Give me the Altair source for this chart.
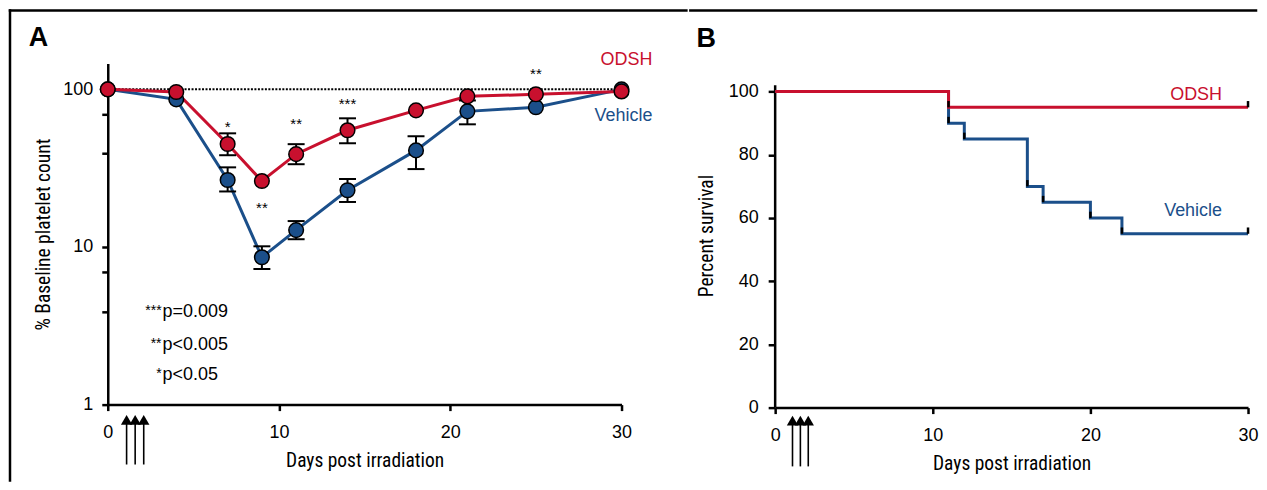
import altair as alt
import pandas as pd

# ---------------- data (panel A: platelet counts, % of baseline) ----------------
days_a = [0, 4, 7, 9, 11, 14, 18, 21, 25, 30]
odsh_a = [100, 96.2, 45, 26.2, 38.8, 55, 73.6, 90.3, 93, 97]
vehicle_a = [100, 86.4, 26.6, 8.6, 12.8, 22.9, 41, 72.5, 77, 100]

err_odsh_days = [7, 11, 14]
err_odsh_lo = [38.2, 33.5, 45.5]
err_odsh_hi = [52.6, 44.9, 65.5]
err_veh_days = [7, 9, 11, 14, 18, 21]
err_veh_lo = [22.5, 7.25, 11.2, 19.3, 31.2, 60]
err_veh_hi = [32, 10.1, 14.6, 27, 50.4, 85]

star_days = [7, 9, 11, 14, 25]
star_vals = [60, 18.4, 62.7, 84, 130]
star_text = ["*", "**", "**", "***", "**"]

p_stars = ["***", "**", "*"]
p_text = ["p=0.009", "p<0.005", "p<0.05"]
p_day = [3.2, 3.2, 3.2]
p_vals = [3.88, 2.40, 1.53]

dose_days = [1.1, 1.6, 2.1]

# ---------------- data (panel B: survival) ----------------
surv_days_odsh = [0, 11, 30]
surv_odsh = [100, 95, 95]
surv_days_veh = [0, 11, 12, 16, 17, 20, 22, 30]
surv_veh = [100, 90, 85, 70, 65, 60, 55, 55]

series_names = ["ODSH", "Vehicle"]
label_a_day = [31.8, 31.8]
label_a_val = [152.6, 67.5]
label_b_day = [28.35, 28.35]
label_b_val = [99.05, 62.1]

RED = "#c8102e"
BLUE = "#1b4f8a"
NARROW = "Roboto Condensed, DejaVu Sans Condensed, sans-serif"
SANS = "Liberation Sans, Arial, Helvetica, sans-serif"

one = pd.DataFrame({"k": [0]})

def axis(values, title, tick=6, lpad=12.5, tpad=11, **kw):
    return alt.Axis(values=values, title=title, grid=False,
                    tickSize=tick, tickWidth=2.5, domainWidth=2.5, domainColor="black",
                    tickColor="black", labelFont=SANS, labelFontSize=18, labelColor="black",
                    labelPadding=lpad, titleFont=NARROW, titleFontSize=19.5,
                    titleFontWeight="normal", titleColor="black", titlePadding=tpad,
                    labelFlush=False, **kw)

# ---------------- panel A ----------------
xA = alt.Scale(domain=[0, 30], nice=False)
yA = alt.Scale(type="log", domain=[1, 146], nice=False)
axAx = axis([0, 10, 20, 30], "Days post irradiation")
axAy = axis([1, 3.9, 6.9, 10, 39.3, 69.4, 100], "% Baseline platelet count", lpad=9, tpad=9,
            format="~g", labelExpr="indexof([1, 10, 100], datum.value) >= 0 ? datum.label : ''")

dfA_o = pd.DataFrame({"day": days_a, "val": odsh_a})
dfA_v = pd.DataFrame({"day": days_a, "val": vehicle_a})
errA_o = pd.DataFrame({"day": err_odsh_days, "lo": err_odsh_lo, "hi": err_odsh_hi})
errA_v = pd.DataFrame({"day": err_veh_days, "lo": err_veh_lo, "hi": err_veh_hi})
stars = pd.DataFrame({"day": star_days, "val": star_vals, "t": star_text})
pdf = pd.DataFrame({"day": p_day, "val": p_vals, "s": p_stars, "t": p_text})
labA = pd.DataFrame({"day": label_a_day, "val": label_a_val, "t": series_names})
doseA = pd.DataFrame({"day": dose_days, "lo": [0.417] * 3, "hi": [0.80] * 3})

line_v = alt.Chart(dfA_v).mark_line(color=BLUE, strokeWidth=3).encode(
    x=alt.X("day:Q", scale=xA, axis=axAx),
    y=alt.Y("val:Q", scale=yA, axis=axAy),
)
ref100 = alt.Chart(pd.DataFrame({"d0": [0], "d1": [30], "v": [100]})).mark_rule(
    color="black", strokeWidth=2, strokeDash=[2, 1.5]).encode(x="d0:Q", x2="d1:Q", y="v:Q")
line_o = alt.Chart(dfA_o).mark_line(color=RED, strokeWidth=3).encode(x="day:Q", y="val:Q")

def errbars(df):
    r = alt.Chart(df).mark_rule(color="black", strokeWidth=2).encode(x="day:Q", y="lo:Q", y2="hi:Q")
    t1 = alt.Chart(df).mark_tick(orient="horizontal", color="black", size=17, thickness=2,
                                 opacity=1).encode(x="day:Q", y="lo:Q")
    t2 = alt.Chart(df).mark_tick(orient="horizontal", color="black", size=17, thickness=2,
                                 opacity=1).encode(x="day:Q", y="hi:Q")
    return [r, t1, t2]

pts_v = alt.Chart(dfA_v).mark_circle(size=215, fill=BLUE, stroke="black", strokeWidth=1.5,
                                     opacity=1).encode(x="day:Q", y="val:Q")
pts_o = alt.Chart(dfA_o).mark_circle(size=215, fill=RED, stroke="black", strokeWidth=1.5,
                                     opacity=1).encode(x="day:Q", y="val:Q")
star_txt = alt.Chart(stars).mark_text(font=SANS, fontSize=15, color="black", dy=3).encode(
    x="day:Q", y="val:Q", text="t:N")
p_s = alt.Chart(pdf).mark_text(font=SANS, fontSize=14, color="black", align="right", dx=-1,
                               dy=-1).encode(x="day:Q", y="val:Q", text="s:N")
p_t = alt.Chart(pdf).mark_text(font=SANS, fontSize=18, color="black", align="left",
                               baseline="middle").encode(x="day:Q", y="val:Q", text="t:N")
labA_txt = alt.Chart(labA).mark_text(font=SANS, fontSize=18, align="right").encode(
    x="day:Q", y="val:Q", text="t:N",
    color=alt.Color("t:N", scale=alt.Scale(domain=series_names, range=[RED, BLUE]), legend=None))
dose_rule = alt.Chart(doseA).mark_rule(color="black", strokeWidth=1.6).encode(
    x="day:Q", y="lo:Q", y2="hi:Q")
dose_head = alt.Chart(doseA).mark_point(shape="triangle-up", filled=True, color="black",
                                        size=130, opacity=1).encode(x="day:Q", y="hi:Q")
letterA = alt.Chart(one).mark_text(text="A", font=SANS, fontSize=27, fontWeight="bold",
                                   color="black", baseline="middle").encode(
    x=alt.value(-69.5), y=alt.value(-25))
frameA_top = alt.Chart(one).mark_rule(color="black", strokeWidth=2.5, strokeCap="square").encode(
    x=alt.value(-98), x2=alt.value(580), y=alt.value(-53))
frameA_left = alt.Chart(one).mark_rule(color="black", strokeWidth=2.5, strokeCap="square").encode(
    x=alt.value(-98), y=alt.value(-53), y2=alt.value(418))

panelA = alt.layer(
    frameA_top, frameA_left, letterA,
    line_v, ref100, line_o, *errbars(errA_o), *errbars(errA_v),
    pts_v, pts_o, star_txt, p_s, p_t, labA_txt, dose_rule, dose_head,
).properties(width=515, height=342)

# ---------------- panel B ----------------
# plot area shares its top with panel A; the drawn axis line stops at 102
xB = alt.Scale(domain=[0, 30], nice=False)
yB = alt.Scale(domain=[0, 108.9], nice=False)
axBx = axis([0, 10, 20, 30], "Days post irradiation")
axBy = axis([0, 20, 40, 60, 80, 100], "Percent survival", tick=7, lpad=10, tpad=12, domain=False)

dfB_o = pd.DataFrame({"day": surv_days_odsh, "val": surv_odsh})
dfB_v = pd.DataFrame({"day": surv_days_veh, "val": surv_veh})
cens = pd.DataFrame({
    "day": surv_days_veh[1:] + surv_days_odsh[1:],
    "val": surv_veh[1:] + surv_odsh[1:],
})
cens["top"] = cens["val"] + 2
labB = pd.DataFrame({"day": label_b_day, "val": label_b_val, "t": series_names})
doseB = pd.DataFrame({"day": dose_days, "lo": [-18.6] * 3, "hi": [-4.1] * 3})

yaxis_line = alt.Chart(pd.DataFrame({"d": [0], "v0": [0], "v1": [102]})).mark_rule(
    color="black", strokeWidth=2.5).encode(x="d:Q", y="v0:Q", y2="v1:Q")
lineB_v = alt.Chart(dfB_v).mark_line(color=BLUE, strokeWidth=3, interpolate="step-after").encode(
    x=alt.X("day:Q", scale=xB, axis=axBx), y=alt.Y("val:Q", scale=yB, axis=axBy))
lineB_o = alt.Chart(dfB_o).mark_line(color=RED, strokeWidth=3, interpolate="step-after").encode(
    x="day:Q", y="val:Q")
cens_r = alt.Chart(cens).mark_rule(color="black", strokeWidth=2.5).encode(
    x="day:Q", y="val:Q", y2="top:Q")
labB_txt = alt.Chart(labB).mark_text(font=SANS, fontSize=18, align="right").encode(
    x="day:Q", y="val:Q", text="t:N",
    color=alt.Color("t:N", scale=alt.Scale(domain=series_names, range=[RED, BLUE]), legend=None))
doseB_rule = alt.Chart(doseB).mark_rule(color="black", strokeWidth=1.6).encode(
    x="day:Q", y="lo:Q", y2="hi:Q")
doseB_head = alt.Chart(doseB).mark_point(shape="triangle-up", filled=True, color="black",
                                         size=130, opacity=1).encode(x="day:Q", y="hi:Q")
letterB = alt.Chart(one).mark_text(text="B", font=SANS, fontSize=27, fontWeight="bold",
                                   color="black", baseline="middle").encode(
    x=alt.value(-69), y=alt.value(-24.5))
frameB_top = alt.Chart(one).mark_rule(color="black", strokeWidth=2.5, strokeCap="square").encode(
    x=alt.value(-85), x2=alt.value(482), y=alt.value(-53))

panelB = alt.layer(
    frameB_top, letterB, yaxis_line, lineB_v, lineB_o, cens_r, labB_txt, doseB_rule, doseB_head,
).properties(width=474, height=345)

chart = alt.hconcat(panelA, panelB, spacing=0).configure_view(stroke=None).properties(
    padding={"left": 0, "top": 0, "right": 0, "bottom": 0})

chart.save("out.html", embed_options={"renderer": "svg", "actions": False})
